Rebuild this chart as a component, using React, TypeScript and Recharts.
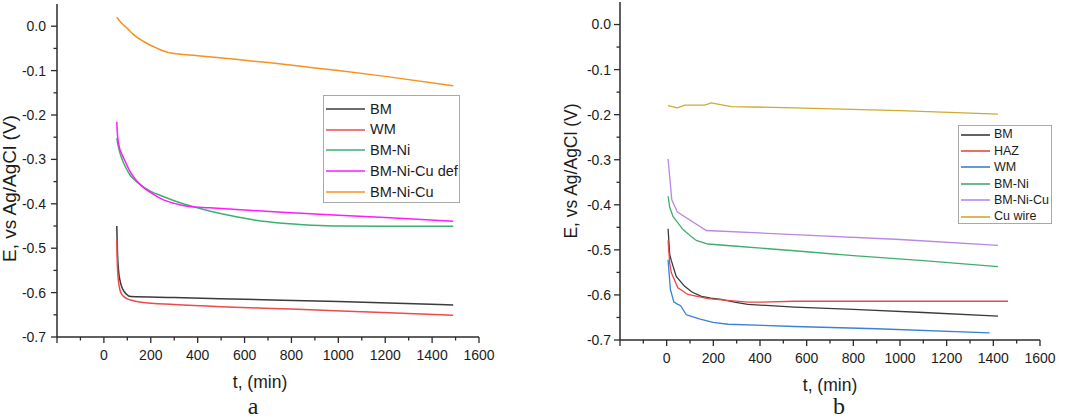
import React from "react";
import { LineChart, Line, XAxis, YAxis, Legend } from "recharts";

// time (min), potential E (V vs Ag/AgCl)

const xTicks = [-200, -100, 0, 100, 200, 300, 400, 500, 600, 700, 800, 900, 1000, 1100, 1200, 1300, 1400, 1500, 1600];
const yTicks = [-0.7, -0.65, -0.6, -0.55, -0.5, -0.45, -0.4, -0.35, -0.3, -0.25, -0.2, -0.15, -0.1, -0.05, 0];

// panel a
const aBM = [[55, -0.45], [58, -0.51], [62, -0.547], [70, -0.576], [80, -0.592], [95, -0.603], [115, -0.609], [300, -0.611], [600, -0.615], [1000, -0.62], [1490, -0.628]];
const aWM = [[55, -0.478], [57, -0.53], [60, -0.562], [65, -0.585], [72, -0.6], [85, -0.609], [100, -0.614], [122, -0.618], [160, -0.622], [300, -0.627], [500, -0.632], [800, -0.637], [1100, -0.643], [1490, -0.651]];
const aBMNi = [[55, -0.252], [62, -0.272], [70, -0.288], [80, -0.303], [95, -0.32], [110, -0.334], [130, -0.346], [165, -0.361], [200, -0.372], [250, -0.383], [300, -0.393], [363, -0.404], [450, -0.416], [554, -0.428], [625, -0.435], [700, -0.4405], [775, -0.4445], [850, -0.4472], [925, -0.449], [1000, -0.45], [1200, -0.4505], [1490, -0.4505]];
const aBMNiCuDef = [[55, -0.215], [58, -0.245], [65, -0.27], [80, -0.292], [94, -0.308], [110, -0.326], [129, -0.341], [150, -0.354], [171, -0.364], [210, -0.378], [250, -0.39], [300, -0.399], [363, -0.406], [450, -0.409], [600, -0.414], [800, -0.42], [1000, -0.426], [1200, -0.431], [1490, -0.4395]];
const aBMNiCu = [[55, 0.02], [75, 0.007], [100, -0.005], [129, -0.02], [171, -0.035], [228, -0.05], [285, -0.0605], [400, -0.0665], [550, -0.074], [700, -0.082], [850, -0.091], [1000, -0.1], [1200, -0.113], [1490, -0.134]];

// panel b
const bBM = [[6, -0.453], [13, -0.51], [20, -0.524], [41, -0.559], [77, -0.581], [110, -0.594], [149, -0.603], [190, -0.607], [234, -0.61], [290, -0.616], [348, -0.621], [548, -0.627], [800, -0.632], [1100, -0.639], [1420, -0.647]];
const bHAZ = [[6, -0.479], [13, -0.53], [20, -0.551], [48, -0.584], [91, -0.599], [177, -0.608], [260, -0.612], [348, -0.616], [406, -0.616], [548, -0.614], [900, -0.614], [1200, -0.614], [1463, -0.614]];
const bWM = [[6, -0.522], [16, -0.588], [31, -0.616], [48, -0.621], [60, -0.624], [84, -0.644], [96, -0.646], [140, -0.653], [198, -0.661], [263, -0.665], [548, -0.67], [900, -0.675], [1384, -0.684]];
const bBMNi = [[6, -0.381], [13, -0.405], [27, -0.426], [45, -0.438], [70, -0.455], [100, -0.468], [127, -0.479], [177, -0.487], [300, -0.492], [548, -0.502], [800, -0.513], [1100, -0.524], [1420, -0.537]];
const bBMNiCu = [[6, -0.298], [22, -0.389], [46, -0.416], [170, -0.457], [548, -0.466], [1000, -0.477], [1420, -0.49]];
const bCuWire = [[6, -0.18], [46, -0.185], [77, -0.179], [163, -0.179], [191, -0.174], [277, -0.182], [548, -0.185], [1000, -0.191], [1420, -0.199]];

const seriesA = [
  { name: "BM", color: "#3b3b3b", rows: aBM },
  { name: "WM", color: "#ec4b4b", rows: aWM },
  { name: "BM-Ni", color: "#3cb06e", rows: aBMNi },
  { name: "BM-Ni-Cu def", color: "#ff1aff", rows: aBMNiCuDef },
  { name: "BM-Ni-Cu", color: "#f7921e", rows: aBMNiCu },
];
const seriesB = [
  { name: "BM", color: "#3b3b3b", rows: bBM },
  { name: "HAZ", color: "#e94848", rows: bHAZ },
  { name: "WM", color: "#3c7fd8", rows: bWM },
  { name: "BM-Ni", color: "#40ad6e", rows: bBMNi },
  { name: "BM-Ni-Cu", color: "#b987e6", rows: bBMNiCu },
  { name: "Cu wire", color: "#cfaa2e", rows: bCuWire },
];

const FONT = "'Liberation Sans', Arial, sans-serif";
const AXIS = "#2b2b2b";
const TEXT = "#1c1c1c";

const toPoints = (rows: number[][]) => rows.map(([t, e]) => ({ t, e }));

function makeXTick(gap: number) {
  return (p: any) => {
    const v = p.payload.value;
    const major = v % 200 === 0;
    return (
      <g>
        <line x1={p.x} x2={p.x} y1={p.y} y2={p.y + (major ? 6 : 3.5)} stroke={AXIS} strokeWidth={1.3} />
        {major && v >= 0 && (
          <text x={p.x} y={p.y + gap} dy="0.71em" textAnchor="middle" fontSize={14} fill={TEXT} fontFamily={FONT}>
            {v}
          </text>
        )}
      </g>
    );
  };
}

function makeYTick(gap: number) {
  return (p: any) => {
    const v = p.payload.value;
    const major = Math.abs(v * 10 - Math.round(v * 10)) < 1e-6;
    return (
      <g>
        <line x1={p.x} x2={p.x - (major ? 6 : 3.5)} y1={p.y} y2={p.y} stroke={AXIS} strokeWidth={1.3} />
        {major && (
          <text x={p.x - gap} y={p.y} dy="0.35em" textAnchor="end" fontSize={14} fill={TEXT} fontFamily={FONT}>
            {v.toFixed(1)}
          </text>
        )}
      </g>
    );
  };
}

type Box = { left: number; top: number; width: number; height: number; padTop: number; rowH: number; sample: number; gap: number; fontSize: number };

function makeLegend(series: { name: string; color: string }[], box: Box) {
  return () => (
    <div
      style={{
        width: box.width,
        height: box.height,
        boxSizing: "border-box",
        border: "1px solid #a9a9a9",
        background: "#fff",
        paddingTop: box.padTop,
        overflow: "hidden",
        fontFamily: FONT,
        fontSize: box.fontSize,
        color: TEXT,
      }}
    >
      {series.map((s) => (
        <div key={s.name} style={{ display: "flex", alignItems: "center", height: box.rowH }}>
          <svg width={box.sample + 2} height={4} style={{ display: "block", flex: "none" }}>
            <line x1={2} x2={box.sample + 2} y1={2} y2={2} stroke={s.color} strokeWidth={1.6} />
          </svg>
          <span style={{ marginLeft: box.gap, whiteSpace: "nowrap", lineHeight: 1 }}>{s.name}</span>
        </div>
      ))}
    </div>
  );
}

interface PanelProps {
  left: number;
  width: number;
  yAxisWidth: number;
  margin: { top: number; right: number; bottom: number; left: number };
  series: { name: string; color: string; rows: number[][] }[];
  curve: "monotone" | "linear";
  strokeWidth: number;
  legend: Box;
  yTickGap: number;
  yTitle: { x: number; dy: number; size: number };
  xTitle: { dx: number; dy: number };
}

function Panel(props: PanelProps) {
  const { left, width, yAxisWidth, margin, series, curve, strokeWidth, legend, yTickGap, yTitle, xTitle } = props;
  return (
    <div style={{ position: "absolute", left, top: 0 }}>
      <LineChart width={width} height={418} margin={margin}>
        <XAxis
          type="number"
          dataKey="t"
          domain={[-200, 1600]}
          ticks={xTicks}
          interval={0}
          height={60}
          tickSize={0}
          tickMargin={0}
          tickLine={false}
          tick={makeXTick(13)}
          axisLine={{ stroke: AXIS, strokeWidth: 1.5 }}
          label={(lp: any) => {
            const vb = lp.viewBox;
            return (
              <text
                x={vb.x + vb.width / 2 + xTitle.dx}
                y={vb.y + xTitle.dy}
                textAnchor="middle"
                dominantBaseline="central"
                fontSize={17.5}
                fill={TEXT}
                fontFamily={FONT}
              >
                t, (min)
              </text>
            );
          }}
        />
        <YAxis
          type="number"
          dataKey="e"
          domain={[-0.7, 0.05]}
          ticks={yTicks}
          interval={0}
          width={yAxisWidth}
          tickSize={0}
          tickMargin={0}
          tickLine={false}
          tick={makeYTick(yTickGap)}
          axisLine={{ stroke: AXIS, strokeWidth: 1.5 }}
          label={(lp: any) => {
            const vb = lp.viewBox;
            const cx = vb.x + yTitle.x;
            const cy = vb.y + vb.height / 2 + yTitle.dy;
            return (
              <text
                x={cx}
                y={cy}
                transform={`rotate(-90 ${cx} ${cy})`}
                textAnchor="middle"
                dominantBaseline="central"
                fontSize={yTitle.size}
                fill={TEXT}
                fontFamily={FONT}
              >
                E, vs Ag/AgCl (V)
              </text>
            );
          }}
        />
        <Legend
          layout="vertical"
          align="center"
          verticalAlign="middle"
          content={makeLegend(series, legend)}
          wrapperStyle={{ left: legend.left, top: legend.top, width: legend.width, height: legend.height }}
        />
        {series.map((s) => (
          <Line
            key={s.name}
            name={s.name}
            data={toPoints(s.rows)}
            dataKey="e"
            type={curve}
            stroke={s.color}
            strokeWidth={strokeWidth}
            dot={false}
            activeDot={false}
            isAnimationActive={false}
          />
        ))}
      </LineChart>
    </div>
  );
}

export default function App() {
  return (
    <div style={{ position: "absolute", left: 0, top: 0, width: 1065, height: 418, background: "#fff", overflow: "hidden" }}>
      <Panel
        left={0}
        width={530}
        yAxisWidth={57}
        margin={{ top: 4, right: 51, bottom: 21, left: 0 }}
        series={seriesA}
        curve="monotone"
        strokeWidth={1.5}
        legend={{ left: 323, top: 95, width: 137, height: 108, padTop: 2.5, rowH: 20.8, sample: 39, gap: 5, fontSize: 14.5 }}
        yTickGap={11}
        yTitle={{ x: 9, dy: 18, size: 19 }}
        xTitle={{ dx: -8, dy: 45 }}
      />
      <Panel
        left={535}
        width={530}
        yAxisWidth={85}
        margin={{ top: 2, right: 25, bottom: 18, left: 0 }}
        series={seriesB}
        curve="linear"
        strokeWidth={1.3}
        legend={{ left: 423, top: 125, width: 94, height: 99, padTop: 0.5, rowH: 16.4, sample: 29, gap: 4, fontSize: 12.5 }}
        yTickGap={9}
        yTitle={{ x: 36, dy: 0, size: 17.5 }}
        xTitle={{ dx: 0, dy: 45 }}
      />
      <svg width={1065} height={418} style={{ position: "absolute", left: 0, top: 0, pointerEvents: "none" }}>
        <text x={253} y={414} textAnchor="middle" fontSize={24} fontFamily="'Liberation Serif', 'Times New Roman', serif" fill={TEXT}>
          a
        </text>
        <text x={839} y={414} textAnchor="middle" fontSize={24} fontFamily="'Liberation Serif', 'Times New Roman', serif" fill={TEXT}>
          b
        </text>
      </svg>
    </div>
  );
}
